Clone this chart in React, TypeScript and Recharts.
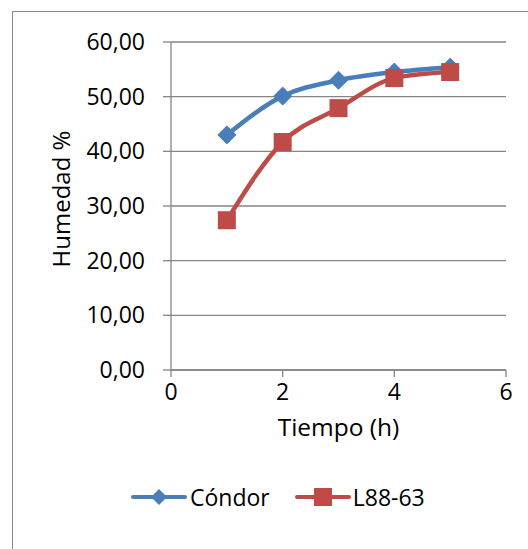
import React from 'react';
import { LineChart, Line, XAxis, YAxis, CartesianGrid, Legend } from 'recharts';

const hours = [1, 2, 3, 4, 5];
const condor = [43.0, 50.1, 53.0, 54.5, 55.4];
const l8863 = [27.4, 41.7, 47.9, 53.4, 54.5];
const xTicks = [0, 2, 4, 6];
const yTicks = [0, 10, 20, 30, 40, 50, 60];
const seriesNames = ['Cóndor', 'L88-63'];
const xLabel = 'Tiempo (h)';
const yLabel = 'Humedad %';

const BLUE = '#4A7EBB';
const RED = '#BE4B48';
const AXIS = '#868686';
const FONT = '"Open Sans", "Liberation Sans", sans-serif';

const data = hours.map((h, i) => ({ h, condor: condor[i], l8863: l8863[i] }));

const Diamond = (props: any) => {
  const { cx, cy, index } = props;
  if (cx == null || cy == null) return null;
  const r = 9;
  return (
    <polygon
      key={'d' + index}
      points={`${cx},${cy - r} ${cx + r},${cy} ${cx},${cy + r} ${cx - r},${cy}`}
      fill={BLUE}
      stroke={BLUE}
      strokeWidth={1}
    />
  );
};

const Square = (props: any) => {
  const { cx, cy, index } = props;
  if (cx == null || cy == null) return null;
  const s = 9;
  return <rect key={'s' + index} x={cx - s} y={cy - s} width={2 * s} height={2 * s} fill={RED} />;
};

const renderLegend = () => (
  <div style={{ display: 'flex', alignItems: 'center', fontFamily: FONT, fontSize: 23, color: '#000', lineHeight: '36px' }}>
    <svg width={56} height={20} style={{ display: 'block' }}>
      <line x1={2} y1={10} x2={54} y2={10} stroke={BLUE} strokeWidth={4} strokeLinecap="round" />
      <polygon points="28,2 36,10 28,18 20,10" fill={BLUE} />
    </svg>
    <span style={{ marginLeft: 3 }}>{seriesNames[0]}</span>
    <svg width={56} height={20} style={{ display: 'block', marginLeft: 25 }}>
      <line x1={2} y1={10} x2={54} y2={10} stroke={RED} strokeWidth={4} strokeLinecap="round" />
      <rect x={19} y={1} width={18} height={18} fill={RED} />
    </svg>
    <span style={{ marginLeft: 2 }}>{seriesNames[1]}</span>
  </div>
);

const fmt = (v: number) => v.toFixed(2).replace('.', ',');

const XLabelContent = (props: any) => {
  const vb = props.viewBox || {};
  const cx = vb.x + vb.width / 2;
  return (
    <text x={cx} y={vb.y + 66} textAnchor="middle" fill="#000" fontSize={24.5} fontFamily={FONT}>
      {xLabel}
    </text>
  );
};

const YLabelContent = (props: any) => {
  const vb = props.viewBox || {};
  const cx = 70;
  const cy = vb.y + vb.height / 2 - 7;
  return (
    <text
      x={cx}
      y={cy}
      textAnchor="middle"
      fill="#000"
      fontSize={24}
      fontFamily={FONT}
      transform={`rotate(-90, ${cx}, ${cy})`}
    >
      {yLabel}
    </text>
  );
};

export default function App() {
  return (
    <div style={{ position: 'absolute', left: 0, top: 0, width: 528, height: 549, overflow: 'hidden', background: '#fff' }}>
      <div style={{ position: 'absolute', left: 12, top: 11, width: 700, height: 700, border: '1px solid #8a8a8a' }} />
      <div style={{ position: 'absolute', left: 0, top: 0 }}>
        <LineChart width={528} height={549} data={data} margin={{ top: 42, right: 22, left: 0, bottom: 0 }}>
          <CartesianGrid vertical={false} stroke={AXIS} strokeWidth={1.3} />
          <XAxis
            dataKey="h"
            type="number"
            domain={[0, 6]}
            ticks={xTicks}
            height={143}
            stroke={AXIS}
            strokeWidth={1.3}
            tickSize={7}
            tickMargin={7}
            tick={{ fill: '#000', fontSize: 23, fontFamily: FONT }}
            label={{ content: XLabelContent }}
          />
          <YAxis
            type="number"
            domain={[0, 60]}
            ticks={yTicks}
            width={171}
            stroke={AXIS}
            strokeWidth={1.3}
            tickSize={8}
            tickMargin={18}
            tickFormatter={fmt}
            tick={{ fill: '#000', fontSize: 23, fontFamily: FONT }}
            label={{ content: YLabelContent }}
          />
          <Legend
            verticalAlign="bottom"
            height={36}
            content={renderLegend}
            wrapperStyle={{ left: 131, bottom: 34, width: 330 }}
          />
          <Line
            name={seriesNames[0]}
            dataKey="condor"
            type="monotone"
            stroke={BLUE}
            strokeWidth={4.5}
            dot={Diamond}
            activeDot={false}
            isAnimationActive={false}
          />
          <Line
            name={seriesNames[1]}
            dataKey="l8863"
            type="monotone"
            stroke={RED}
            strokeWidth={4.5}
            dot={Square}
            activeDot={false}
            isAnimationActive={false}
          />
        </LineChart>
      </div>
    </div>
  );
}
